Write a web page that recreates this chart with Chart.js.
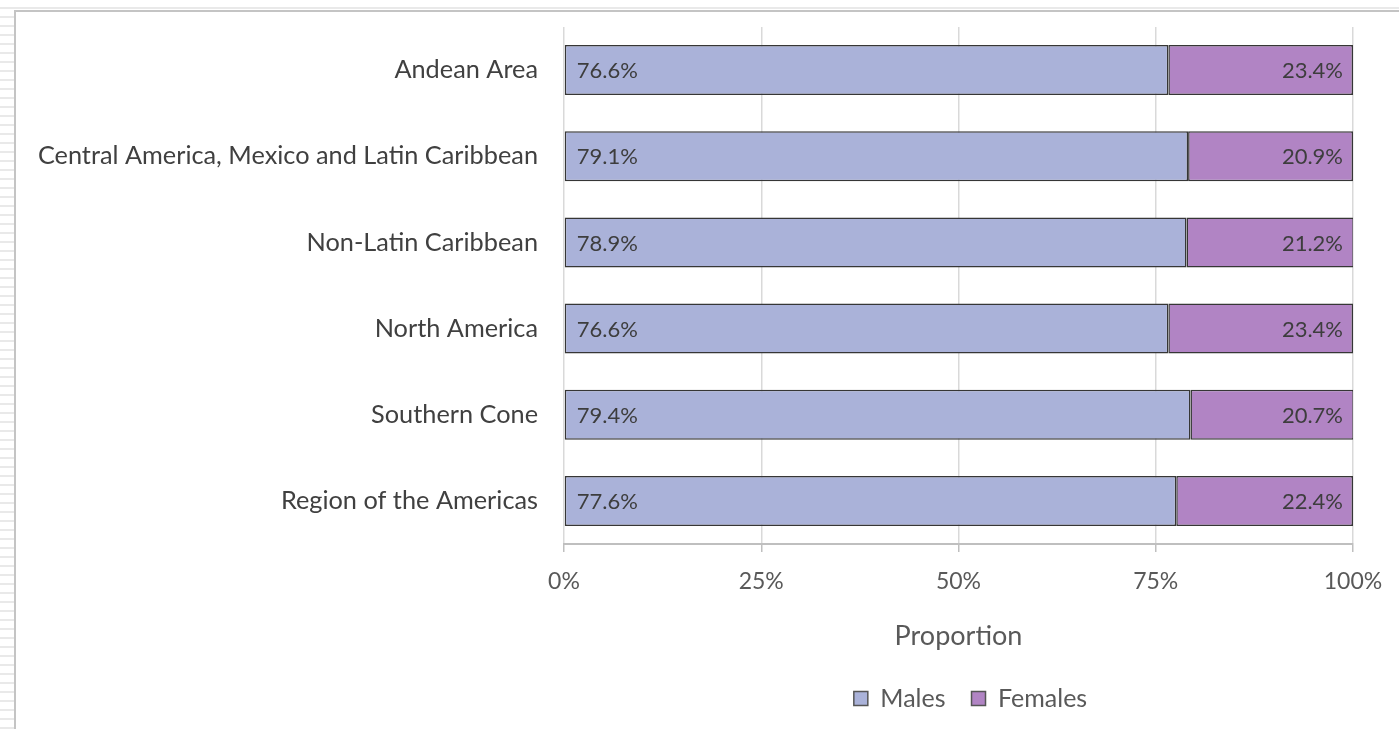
<!DOCTYPE html>
<html>
<head>
<meta charset="utf-8">
<title>Proportion by sex and subregion</title>
<script src="https://cdn.jsdelivr.net/npm/chart.js@4.4.1/dist/chart.umd.min.js"></script>
<style>
    html, body {
        margin: 0;
        padding: 0;
        width: 1399px;
        height: 729px;
        overflow: hidden;
        background: repeating-linear-gradient(180deg, #ffffff 0px, #ffffff 7px, #e9e9e9 7px, #e9e9e9 9px);
    }
    #frame {
        position: absolute;
        left: 14px;
        top: 10px;
        width: 1400px;
        height: 730px;
        background: #ffffff;
        border-left: 2px solid #c4c4c4;
        border-top: 2px solid #c4c4c4;
    }
    #wrap {
        position: absolute;
        left: 0;
        top: 0;
        width: 1399px;
        height: 729px;
    }
</style>
</head>
<body>
<div id="frame"></div>
<div id="wrap"><canvas id="chart"></canvas></div>

<script>
// ====================================
// DATA
// ====================================

const regions = [
    'Andean Area',
    'Central America, Mexico and Latin Caribbean',
    'Non-Latin Caribbean',
    'North America',
    'Southern Cone',
    'Region of the Americas'
];

const males = [76.6, 79.1, 78.9, 76.6, 79.4, 77.6];
const females = [23.4, 20.9, 21.2, 23.4, 20.7, 22.4];

const xTicks = [0, 25, 50, 75, 100];

const FONT = 'Lato, "Open Sans", sans-serif';

// Draw the percentage labels inside the bars
const barLabels = {
    id: 'barLabels',
    afterDatasetsDraw(chart) {
        const ctx = chart.ctx;
        const right = chart.chartArea.right;
        ctx.save();
        ctx.font = '22px ' + FONT;
        ctx.fillStyle = '#3d3d3d';
        ctx.textBaseline = 'middle';

        chart.data.datasets.forEach((ds, i) => {
            const meta = chart.getDatasetMeta(i);
            meta.data.forEach((bar, j) => {
                const text = ds.data[j].toFixed(1) + '%';
                if (i === 0) {
                    ctx.textAlign = 'left';
                    ctx.fillText(text, bar.base + 12, bar.y + 1);
                } else {
                    ctx.textAlign = 'right';
                    ctx.fillText(text, Math.min(bar.x, right) - 10, bar.y + 1);
                }
            });
        });
        ctx.restore();
    }
};

// Center the legend under the plot area instead of the whole canvas
const legendUnderPlot = {
    id: 'legendUnderPlot',
    afterLayout(chart) {
        if (!chart.legend) return;
        chart.legend.left = chart.chartArea.left + 12;
        chart.legend.right = chart.chartArea.right + 12;
    }
};

// ====================================
// CHART
// ====================================

const ctx = document.getElementById('chart');

new Chart(ctx, {
    type: 'bar',
    data: {
        labels: regions,
        datasets: [
            {
                label: 'Males',
                data: males,
                backgroundColor: '#aab2d9',
                borderColor: '#363636',
                borderWidth: 1.5,
                borderSkipped: false,
                barPercentage: 0.58,
                categoryPercentage: 1
            },
            {
                label: 'Females',
                data: females,
                backgroundColor: '#b184c4',
                borderColor: '#363636',
                borderWidth: 1.5,
                borderSkipped: false,
                barPercentage: 0.58,
                categoryPercentage: 1
            }
        ]
    },
    options: {
        indexAxis: 'y',
        responsive: true,
        maintainAspectRatio: false,
        animation: false,
        layout: {
            padding: { top: 27, right: 46, left: 0, bottom: 8 }
        },
        plugins: {
            legend: {
                position: 'bottom',
                labels: {
                    color: '#595959',
                    boxWidth: 14,
                    boxHeight: 14,
                    padding: 26,
                    font: { family: FONT, size: 25 },
                    generateLabels(chart) {
                        return chart.data.datasets.map((ds, i) => ({
                            text: ds.label,
                            fillStyle: ds.backgroundColor,
                            strokeStyle: '#555555',
                            lineWidth: 1.5,
                            datasetIndex: i,
                            fontColor: '#595959'
                        }));
                    }
                }
            },
            tooltip: { enabled: false }
        },
        scales: {
            x: {
                stacked: true,
                min: 0,
                max: 100,
                afterBuildTicks(scale) {
                    scale.ticks = xTicks.map(v => ({ value: v }));
                },
                afterFit(scale) {
                    scale.height = 116;
                },
                ticks: {
                    color: '#595959',
                    padding: 16,
                    font: { family: FONT, size: 23 },
                    callback: value => value + '%'
                },
                grid: {
                    color: '#d9d9d9',
                    lineWidth: 1.5,
                    tickLength: 8,
                    tickColor: '#bfbfbf'
                },
                border: {
                    color: '#bfbfbf',
                    width: 2
                },
                title: {
                    display: true,
                    text: 'Proportion',
                    color: '#595959',
                    font: { family: FONT, size: 27 },
                    padding: { top: 0, bottom: 8 }
                }
            },
            y: {
                stacked: true,
                afterFit(scale) {
                    scale.width = 564;
                    // labels sit in the middle of each band, no overflow needed
                    scale.paddingTop = 0;
                    scale.paddingBottom = 0;
                },
                ticks: {
                    color: '#404040',
                    padding: 26,
                    font: { family: FONT, size: 25.3 }
                },
                grid: { display: false, drawTicks: false, tickLength: 0 },
                border: { display: false }
            }
        }
    },
    plugins: [barLabels, legendUnderPlot]
});
</script>
</body>
</html>
